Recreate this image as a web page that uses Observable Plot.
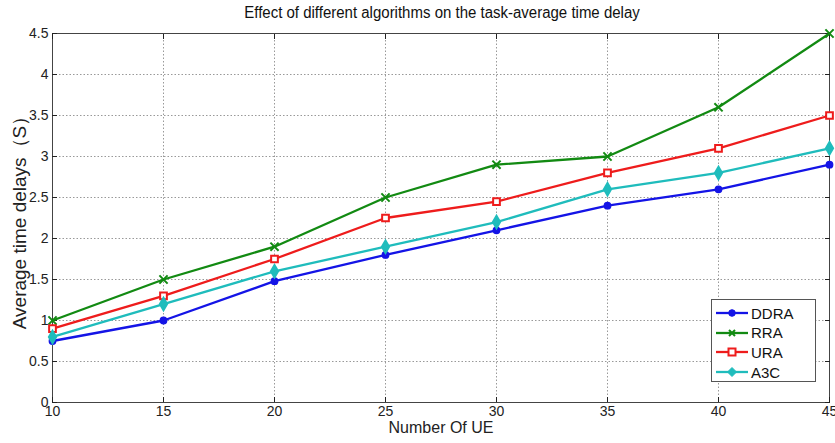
<!DOCTYPE html>
<html>
<head>
<meta charset="utf-8">
<script src="https://cdn.jsdelivr.net/npm/d3@7"></script>
<script src="https://cdn.jsdelivr.net/npm/@observablehq/plot@0.6"></script>
<style>
  body { margin: 0; background: white; font-family: "Liberation Sans", Arial, sans-serif; }
  #wrap { position: relative; width: 835px; height: 443px; overflow: hidden; }
  #title { height: 24px; line-height: 24px; font-size: 15px; text-align: center; padding-left: 49px; box-sizing: border-box; width: 835px; color: #111; transform: scaleY(1.15); }
  #legend { position: absolute; left: 711px; top: 299px; width: 105px; height: 83px; box-sizing: border-box; border: 1px solid #555; background: white; }
  .entry { position: absolute; left: 4px; height: 20px; display: flex; align-items: center; font-size: 15px; color: #111; }
  .entry svg { margin-right: 3px; }
</style>
</head>
<body>
<div id="wrap">
  <div id="title">Effect of different algorithms on the task-average time delay</div>
  <div id="chart"></div>
  <div id="legend"></div>
</div>
<script>
const xValues = [10, 15, 20, 25, 30, 35, 40, 45];
const ddra = [0.75, 1.0, 1.48, 1.8, 2.1, 2.4, 2.6, 2.9];
const rra  = [1.0, 1.5, 1.9, 2.5, 2.9, 3.0, 3.6, 4.5];
const ura  = [0.9, 1.3, 1.75, 2.25, 2.45, 2.8, 3.1, 3.5];
const a3c  = [0.8, 1.2, 1.6, 1.9, 2.2, 2.6, 2.8, 3.1];
const seriesNames = ["DDRA", "RRA", "URA", "A3C"];
const seriesValues = [ddra, rra, ura, a3c];
const seriesColors = ["#1414e6", "#128a12", "#ee1c1c", "#1fbcbc"];
const seriesSymbols = ["circle", "times", "square", "diamond"];
const seriesFills = ["currentColor", "none", "white", "currentColor"];
const xTicks = [10, 15, 20, 25, 30, 35, 40, 45];
const yTicks = [0, 0.5, 1, 1.5, 2, 2.5, 3, 3.5, 4, 4.5];
const xLabel = "Number Of UE";
const yLabel = "Average time delays（S）";

const data = seriesNames.flatMap((name, i) =>
  xValues.map((x, j) => ({series: name, x, y: seriesValues[i][j]})));

const grid = {stroke: "#999", strokeOpacity: 1, strokeDasharray: "1.5,2"};
const marks = [
  Plot.gridX(xTicks, grid),
  Plot.gridY(yTicks, grid),
  Plot.frame({stroke: "#444"}),
  Plot.axisX(xTicks, {tickSize: -5, tickPadding: 9, label: null, tickFormat: d => String(d)}),
  Plot.axisX(xTicks, {anchor: "top", tickSize: -5, tickFormat: () => "", label: null}),
  Plot.axisY(yTicks, {tickSize: -5, tickPadding: 9, label: null, tickFormat: d => String(d)}),
  Plot.axisY(yTicks, {anchor: "right", tickSize: -5, tickFormat: () => "", label: null}),
  Plot.text([yLabel], {frameAnchor: "left", textAnchor: "middle", rotate: -90, dx: -33, dy: 0, fontSize: 19}),
  Plot.text([xLabel], {frameAnchor: "bottom", dy: 30, fontSize: 16})
];
seriesNames.forEach((name, i) => {
  const d = data.filter(r => r.series === name);
  marks.push(Plot.line(d, {x: "x", y: "y", stroke: seriesColors[i], strokeWidth: 2.3}));
  marks.push(Plot.dot(d, {
    x: "x", y: "y", symbol: () => seriesSymbols[i],
    r: seriesSymbols[i] === "circle" ? 3.3 : 3.8,
    stroke: seriesColors[i], strokeWidth: seriesSymbols[i] === "circle" ? 1.2 : 2,
    fill: seriesFills[i] === "currentColor" ? seriesColors[i] : seriesFills[i]
  }));
});

const chart = Plot.plot({
  width: 835, height: 419,
  marginTop: 9, marginBottom: 41, marginLeft: 52, marginRight: 6,
  x: {domain: [10, 45]},
  y: {domain: [0, 4.5]},
  symbol: {type: "identity"},
  style: {fontFamily: "'Liberation Sans', Arial, sans-serif", fontSize: "14px", color: "#222", background: "white", overflow: "visible"},
  marks
});
document.getElementById("chart").appendChild(chart);

const legend = document.getElementById("legend");
seriesNames.forEach((name, i) => {
  const e = document.createElement("div");
  e.className = "entry";
  e.style.top = (3 + i * 19.7) + "px";
  const sym = seriesSymbols[i];
  const c = seriesColors[i];
  let m = "";
  if (sym === "circle") m = `<circle cx="16" cy="10" r="3.3" fill="${c}" stroke="${c}"/>`;
  if (sym === "times") m = `<path d="M13,7L19,13M19,7L13,13" stroke="${c}" stroke-width="2"/>`;
  if (sym === "square") m = `<rect x="12.5" y="6.5" width="7" height="7" fill="white" stroke="${c}" stroke-width="2"/>`;
  if (sym === "diamond") m = `<path d="M16,5.5L20.5,10L16,14.5L11.5,10Z" fill="${c}" stroke="${c}"/>`;
  e.innerHTML = `<svg width="32" height="20"><line x1="0" x2="32" y1="10" y2="10" stroke="${c}" stroke-width="2.3"/>${m}</svg><span>${name}</span>`;
  legend.appendChild(e);
});
</script>
</body>
</html>
